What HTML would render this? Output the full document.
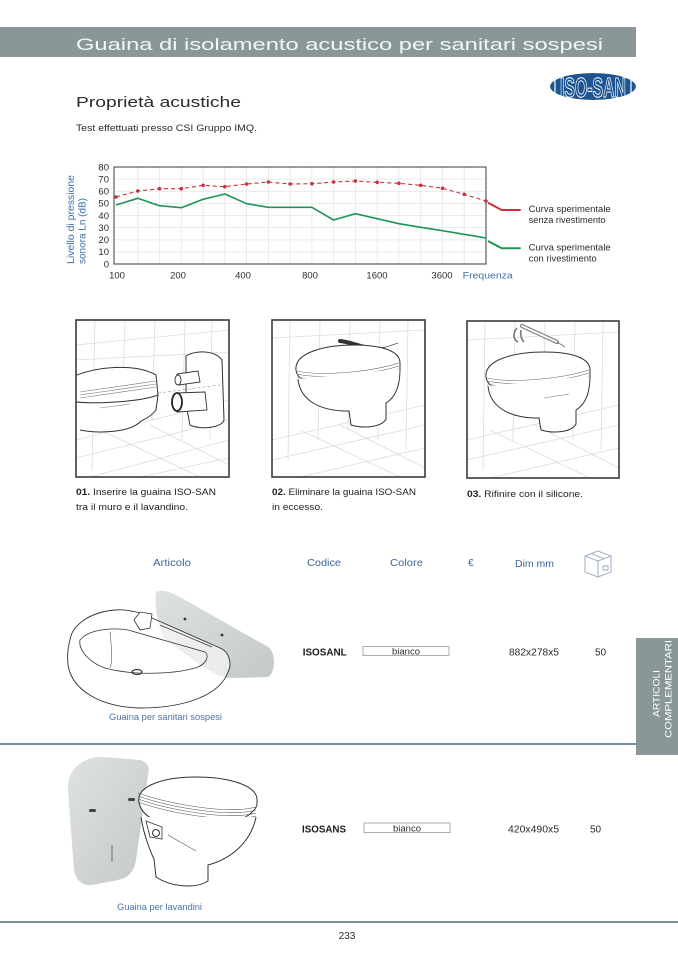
<!DOCTYPE html>
<html>
<head>
<meta charset="utf-8">
<style>
html,body{margin:0;padding:0;background:#fff;}
svg{display:block;}
text{font-family:"Liberation Sans",sans-serif;}
</style>
</head>
<body>
<svg width="678" height="959" viewBox="0 0 678 959" xmlns="http://www.w3.org/2000/svg">
<defs>
  <clipPath id="logoclip"><ellipse cx="593" cy="86.5" rx="43" ry="13.5"/></clipPath>
  <clipPath id="b1"><rect x="76" y="320" width="153" height="157"/></clipPath>
  <clipPath id="b2"><rect x="272" y="320" width="153" height="157"/></clipPath>
  <clipPath id="b3"><rect x="467" y="321" width="152" height="157"/></clipPath>
  <linearGradient id="panelg" x1="0" y1="0" x2="1" y2="1">
    <stop offset="0" stop-color="#dfe2e2"/>
    <stop offset="1" stop-color="#c3c8c8"/>
  </linearGradient>
</defs>

<!-- Header bar -->
<rect x="0" y="27" width="636" height="30" fill="#8a9799"/>
<text x="76" y="50" font-size="17" fill="#f4f6f6" textLength="527" lengthAdjust="spacingAndGlyphs">Guaina di isolamento acustico per sanitari sospesi</text>

<text x="76" y="107" font-size="15" fill="#2b2b2b" textLength="165" lengthAdjust="spacingAndGlyphs">Proprietà acustiche</text>
<text x="76" y="131" font-size="9.5" fill="#2b2b2b" textLength="181" lengthAdjust="spacingAndGlyphs">Test effettuati presso CSI Gruppo IMQ.</text>

<!-- Logo -->
<g clip-path="url(#logoclip)">
  <ellipse cx="593" cy="86.5" rx="43" ry="13.5" fill="#1d5592"/>
  <text x="593" y="97" font-size="28" font-weight="bold" fill="#1d5592" stroke="#ffffff" stroke-width="1" text-anchor="middle" textLength="66" lengthAdjust="spacingAndGlyphs">ISO-SAN</text>
  <line x1="555" y1="73" x2="555" y2="100" stroke="#fff" stroke-width="1.2"/>
  <line x1="631" y1="73" x2="631" y2="100" stroke="#fff" stroke-width="1.2"/>
</g>

<!-- Chart -->
<g stroke="#e6e6e6" stroke-width="0.8">
  <line x1="114" y1="179.1" x2="486" y2="179.1"/>
  <line x1="114" y1="191.3" x2="486" y2="191.3"/>
  <line x1="114" y1="203.4" x2="486" y2="203.4"/>
  <line x1="114" y1="215.5" x2="486" y2="215.5"/>
  <line x1="114" y1="227.6" x2="486" y2="227.6"/>
  <line x1="114" y1="239.8" x2="486" y2="239.8"/>
  <line x1="114" y1="251.9" x2="486" y2="251.9"/>
  <line x1="137.8" y1="167" x2="137.8" y2="264"/>
  <line x1="159.5" y1="167" x2="159.5" y2="264"/>
  <line x1="181.3" y1="167" x2="181.3" y2="264"/>
  <line x1="203.1" y1="167" x2="203.1" y2="264"/>
  <line x1="224.8" y1="167" x2="224.8" y2="264"/>
  <line x1="246.6" y1="167" x2="246.6" y2="264"/>
  <line x1="268.4" y1="167" x2="268.4" y2="264"/>
  <line x1="290.1" y1="167" x2="290.1" y2="264"/>
  <line x1="311.9" y1="167" x2="311.9" y2="264"/>
  <line x1="333.6" y1="167" x2="333.6" y2="264"/>
  <line x1="355.4" y1="167" x2="355.4" y2="264"/>
  <line x1="377.2" y1="167" x2="377.2" y2="264"/>
  <line x1="398.9" y1="167" x2="398.9" y2="264"/>
  <line x1="420.7" y1="167" x2="420.7" y2="264"/>
  <line x1="442.5" y1="167" x2="442.5" y2="264"/>
  <line x1="464.2" y1="167" x2="464.2" y2="264"/>
</g>
<rect x="114" y="167" width="372" height="97" fill="none" stroke="#3a3a3a" stroke-width="1"/>

<!-- green series -->
<polyline fill="none" stroke="#1e9556" stroke-width="1.6" stroke-linejoin="round"
  points="116,205 137.8,198.3 159.5,205.7 181.3,207.7 203.1,199.3 224.8,194 246.6,203.7 268.4,207.3 290.1,207.3 311.9,207.3 333.6,220 355.4,213.7 377.2,218.7 398.9,223.7 420.7,227.3 442.5,230.7 464.2,234.3 486,238"/>
<!-- red series -->
<polyline fill="none" stroke="#c8323a" stroke-width="1.1" stroke-dasharray="4,3"
  points="116,197 137.8,191 159.5,188.7 181.3,188.7 203.1,185.3 224.8,186.7 246.6,184 268.4,182 290.1,184 311.9,183.7 333.6,182 355.4,181 377.2,182.3 398.9,183.3 420.7,185.3 442.5,188.3 464.2,194.3 486,201"/>
<g fill="#c8323a">
  <circle cx="116" cy="197" r="1.8"/><circle cx="137.8" cy="191" r="1.8"/><circle cx="159.5" cy="188.7" r="1.8"/>
  <circle cx="181.3" cy="188.7" r="1.8"/><circle cx="203.1" cy="185.3" r="1.8"/><circle cx="224.8" cy="186.7" r="1.8"/>
  <circle cx="246.6" cy="184" r="1.8"/><circle cx="268.4" cy="182" r="1.8"/><circle cx="290.1" cy="184" r="1.8"/>
  <circle cx="311.9" cy="183.7" r="1.8"/><circle cx="333.6" cy="182" r="1.8"/><circle cx="355.4" cy="181" r="1.8"/>
  <circle cx="377.2" cy="182.3" r="1.8"/><circle cx="398.9" cy="183.3" r="1.8"/><circle cx="420.7" cy="185.3" r="1.8"/>
  <circle cx="442.5" cy="188.3" r="1.8"/><circle cx="464.2" cy="194.3" r="1.8"/><circle cx="486" cy="201" r="1.8"/>
</g>

<!-- legend -->
<polyline fill="none" stroke="#c8323a" stroke-width="2" points="488,202.7 501.7,210 520.7,210"/>
<polyline fill="none" stroke="#1e9556" stroke-width="2" points="488,241 501.7,248.3 520.7,248.3"/>
<g font-size="9" fill="#2b2b2b">
  <text x="528.7" y="212" textLength="82" lengthAdjust="spacingAndGlyphs">Curva sperimentale</text>
  <text x="528.7" y="223" textLength="77" lengthAdjust="spacingAndGlyphs">senza rivestimento</text>
  <text x="528.7" y="250.5" textLength="82" lengthAdjust="spacingAndGlyphs">Curva sperimentale</text>
  <text x="528.7" y="261.5" textLength="68" lengthAdjust="spacingAndGlyphs">con rivestimento</text>
</g>

<!-- y tick labels -->
<g font-size="9.5" fill="#2b2b2b" text-anchor="end">
  <text x="109" y="170.3">80</text>
  <text x="109" y="182.4">70</text>
  <text x="109" y="194.6">60</text>
  <text x="109" y="206.7">50</text>
  <text x="109" y="218.8">40</text>
  <text x="109" y="230.9">30</text>
  <text x="109" y="243.1">20</text>
  <text x="109" y="255.2">10</text>
  <text x="109" y="267.3">0</text>
</g>
<!-- x tick labels -->
<g font-size="9.5" fill="#2b2b2b" text-anchor="middle">
  <text x="117" y="278.5">100</text>
  <text x="178" y="278.5">200</text>
  <text x="243" y="278.5">400</text>
  <text x="310" y="278.5">800</text>
  <text x="377" y="278.5">1600</text>
  <text x="442" y="278.5">3600</text>
</g>
<text x="462.7" y="278.5" font-size="9.5" fill="#3a6fa8" textLength="50" lengthAdjust="spacingAndGlyphs">Frequenza</text>
<!-- y axis title -->
<text transform="translate(74,264) rotate(-90)" font-size="10.5" fill="#3a6fa8" textLength="89" lengthAdjust="spacingAndGlyphs">Livello di pressione</text>
<text transform="translate(85.5,264) rotate(-90)" font-size="10.5" fill="#3a6fa8" textLength="66" lengthAdjust="spacingAndGlyphs">sonora Ln (dB)</text>

<!-- ===== Illustration box 1 ===== -->
<g clip-path="url(#b1)">
  <g stroke="#dcdcdc" stroke-width="0.8" fill="none">
    <line x1="95" y1="320" x2="92" y2="470"/><line x1="125" y1="320" x2="122" y2="420"/>
    <line x1="155" y1="320" x2="152" y2="420"/><line x1="185" y1="320" x2="182" y2="440"/>
    <line x1="212" y1="320" x2="210" y2="440"/>
    <line x1="76" y1="345" x2="229" y2="330"/><line x1="76" y1="360" x2="229" y2="352"/>
    <line x1="76" y1="440" x2="229" y2="400"/><line x1="76" y1="458" x2="229" y2="420"/>
    <line x1="90" y1="477" x2="229" y2="440"/><line x1="140" y1="477" x2="229" y2="458"/>
    <line x1="100" y1="430" x2="200" y2="477"/><line x1="150" y1="425" x2="229" y2="465"/>
  </g>
  <!-- sink side -->
  <path d="M70,378 C95,366 135,363 156,375 L158,395 C145,402 110,405 76,402 Z" fill="#fff" stroke="#333" stroke-width="1"/>
  <path d="M80,392 L156,381 M80,395 L156,384 M80,398 L156,387" stroke="#777" stroke-width="0.6"/>
  <path d="M76,402 C95,404 140,402 158,395 L156,410 C150,418 142,420 140,422 C130,432 100,434 80,430" fill="#fff" stroke="#333" stroke-width="1"/>
  <path d="M100,408 L130,404" stroke="#888" stroke-width="0.6"/>
  <!-- panel -->
  <path d="M186,356 C195,350 215,350 222,360 L224,420 C222,428 200,430 190,425 L186,405 Z" fill="#fff" stroke="#333" stroke-width="1"/>
  <!-- nut -->
  <path d="M177,374 L198,371 L200,382 L179,385 Z" fill="#fff" stroke="#333" stroke-width="0.9"/>
  <ellipse cx="178" cy="380" rx="3" ry="5" fill="#fff" stroke="#333" stroke-width="0.9"/>
  <!-- cylinder -->
  <path d="M176,393 L205,392 L207,410 L177,412 Z" fill="#fff" stroke="#333" stroke-width="0.9"/>
  <ellipse cx="177" cy="402" rx="5" ry="9" fill="#fff" stroke="#222" stroke-width="1.8"/>
  <line x1="158" y1="393" x2="220" y2="385" stroke="#999" stroke-width="0.6" stroke-dasharray="3,2"/>
</g>
<rect x="76" y="320" width="153" height="157" fill="none" stroke="#3a3a3a" stroke-width="1.6"/>

<!-- ===== Illustration box 2 ===== -->
<g clip-path="url(#b2)">
  <g stroke="#dcdcdc" stroke-width="0.8" fill="none">
    <line x1="290" y1="320" x2="288" y2="460"/><line x1="320" y1="320" x2="318" y2="440"/>
    <line x1="350" y1="320" x2="348" y2="430"/><line x1="380" y1="320" x2="378" y2="440"/>
    <line x1="408" y1="320" x2="406" y2="450"/>
    <line x1="272" y1="338" x2="425" y2="330"/>
    <line x1="272" y1="440" x2="425" y2="405"/><line x1="272" y1="460" x2="425" y2="425"/>
    <line x1="300" y1="477" x2="425" y2="448"/><line x1="300" y1="430" x2="400" y2="477"/>
    <line x1="340" y1="425" x2="425" y2="468"/>
  </g>
  <path d="M340,341 C350,342 358,346 370,348" stroke="#333" stroke-width="4" fill="none" stroke-linecap="round"/>
  <path d="M370,348 C380,350 392,345 398,343" stroke="#555" stroke-width="0.8" fill="none"/>
  <g transform="translate(294,345)">
    <path d="M2,25 C0,8 30,0 60,0 C88,0 106,6 106,18 L106,24 C104,32 80,42 50,42 C20,42 3,36 2,25 Z" fill="#fff" stroke="#333" stroke-width="1"/>
    <path d="M3,26 C30,32 80,26 105,18 M3,29 C30,35 80,29 105,21 M3,32 C30,38 80,32 105,24" stroke="#666" stroke-width="0.6" fill="none"/>
    <path d="M4,34 C6,55 25,65 50,66 L55,66 L57,80 C70,84 88,82 92,74 L92,58 C102,52 106,40 106,24" fill="#fff" stroke="#333" stroke-width="1"/>
  </g>
</g>
<rect x="272" y="320" width="153" height="157" fill="none" stroke="#3a3a3a" stroke-width="1.6"/>

<!-- ===== Illustration box 3 ===== -->
<g clip-path="url(#b3)">
  <g stroke="#dcdcdc" stroke-width="0.8" fill="none">
    <line x1="485" y1="321" x2="483" y2="470"/><line x1="515" y1="321" x2="513" y2="440"/>
    <line x1="545" y1="321" x2="543" y2="430"/><line x1="575" y1="321" x2="573" y2="440"/>
    <line x1="603" y1="321" x2="601" y2="450"/>
    <line x1="467" y1="340" x2="619" y2="332"/>
    <line x1="467" y1="440" x2="619" y2="405"/><line x1="467" y1="460" x2="619" y2="425"/>
    <line x1="490" y1="478" x2="619" y2="448"/><line x1="490" y1="430" x2="590" y2="478"/>
    <line x1="535" y1="425" x2="619" y2="468"/>
  </g>
  <!-- silicone gun -->
  <path d="M522,326 L557,342" stroke="#777" stroke-width="4" stroke-linecap="round"/>
  <path d="M522,326 L557,342" stroke="#fff" stroke-width="2" stroke-linecap="round"/>
  <path d="M517,328 C512,334 514,340 518,342 M521,330 C520,336 522,340 524,342" stroke="#777" stroke-width="1.6" fill="none"/>
  <path d="M557,342 L565,347" stroke="#777" stroke-width="1"/>
  <g transform="translate(484,352)">
    <path d="M2,25 C0,8 30,0 60,0 C88,0 106,6 106,18 L106,24 C104,32 80,42 50,42 C20,42 3,36 2,25 Z" fill="#fff" stroke="#333" stroke-width="1"/>
    <path d="M3,26 C30,32 80,26 105,18 M3,29 C30,35 80,29 105,21 M3,32 C30,38 80,32 105,24" stroke="#666" stroke-width="0.6" fill="none"/>
    <path d="M4,34 C6,55 25,65 50,66 L55,66 L57,78 C70,82 88,80 92,72 L92,58 C102,52 106,40 106,24" fill="#fff" stroke="#333" stroke-width="1"/>
    <path d="M60,46 L85,42" stroke="#777" stroke-width="0.6"/>
  </g>
</g>
<rect x="467" y="321" width="152" height="157" fill="none" stroke="#3a3a3a" stroke-width="1.6"/>

<!-- captions -->
<g font-size="9.5" fill="#222">
  <text x="76" y="495" textLength="140" lengthAdjust="spacingAndGlyphs"><tspan font-weight="bold">01.</tspan> Inserire la guaina ISO-SAN</text>
  <text x="76" y="510" textLength="112" lengthAdjust="spacingAndGlyphs">tra il muro e il lavandino.</text>
  <text x="272" y="495" textLength="144" lengthAdjust="spacingAndGlyphs"><tspan font-weight="bold">02.</tspan> Eliminare la guaina ISO-SAN</text>
  <text x="272" y="510" textLength="51" lengthAdjust="spacingAndGlyphs">in eccesso.</text>
  <text x="467" y="497" textLength="116" lengthAdjust="spacingAndGlyphs"><tspan font-weight="bold">03.</tspan> Rifinire con il silicone.</text>
</g>

<!-- table header -->
<g font-size="10" fill="#3d6699">
  <text x="153" y="566" textLength="38" lengthAdjust="spacingAndGlyphs">Articolo</text>
  <text x="307" y="566" textLength="34" lengthAdjust="spacingAndGlyphs">Codice</text>
  <text x="390" y="566" textLength="33" lengthAdjust="spacingAndGlyphs">Colore</text>
  <text x="468" y="566">€</text>
  <text x="515" y="567" textLength="39" lengthAdjust="spacingAndGlyphs">Dim mm</text>
</g>
<!-- box icon -->
<g fill="none" stroke="#8ea3ba" stroke-width="0.9">
  <path d="M585,556 L598,551 L611,556 L611,572 L598,577 L585,572 Z"/>
  <path d="M585,556 L598,561 L611,556 M598,561 L598,577"/>
  <path d="M591,553.5 L604,558.5"/>
  <rect x="603" y="566" width="5" height="4"/>
</g>

<!-- product 1 -->
<path d="M156,592 C162,589 170,592 180,597 L268,647 C276,652 276,672 268,677 L232,678 C222,678 212,672 200,665 L166,640 C158,630 154,605 156,592 Z" fill="url(#panelg)"/>
<circle cx="185" cy="619" r="1.4" fill="#333"/><circle cx="222" cy="635" r="1.4" fill="#333"/>
<path d="M70,640 C72,625 90,612 115,610 C130,609 142,613 152,618 L220,648 C230,652 232,665 228,672 C220,695 185,708 140,708 C100,707 72,690 68,665 C67,655 68,647 70,640 Z" fill="#fff" fill-opacity="0.6" stroke="#333" stroke-width="0.9"/>
<path d="M80,640 C88,630 110,627 128,630 L205,652 C210,656 206,665 195,668 C170,675 130,675 105,668 C90,663 78,650 80,640 Z" fill="none" stroke="#333" stroke-width="0.8"/>
<path d="M110,632 C112,650 112,665 110,668" fill="none" stroke="#555" stroke-width="0.6"/>
<ellipse cx="137" cy="672" rx="5" ry="2.5" fill="none" stroke="#333" stroke-width="1.2"/>
<path d="M134,620 L140,612 L152,614 L150,628 L140,630 Z" fill="#fff" stroke="#333" stroke-width="0.8"/>
<path d="M160,625 L212,647" stroke="#333" stroke-width="0.7"/>
<text x="109" y="720" font-size="9" fill="#4a73a8" textLength="113" lengthAdjust="spacingAndGlyphs">Guaina per sanitari sospesi</text>

<!-- row 1 -->
<text x="302.7" y="655.5" font-size="10" font-weight="bold" fill="#1a1a1a" textLength="44" lengthAdjust="spacingAndGlyphs">ISOSANL</text>
<rect x="363" y="646.5" width="86" height="9" fill="#fff" stroke="#9a9a9a" stroke-width="0.8"/>
<text x="406" y="654.5" font-size="9.5" fill="#2b2b2b" text-anchor="middle">bianco</text>
<text x="509" y="655.5" font-size="10" fill="#2b2b2b" textLength="50" lengthAdjust="spacingAndGlyphs">882x278x5</text>
<text x="595" y="655.5" font-size="10" fill="#2b2b2b">50</text>

<!-- side tab -->
<rect x="636" y="638" width="42" height="117" fill="#8a9799"/>
<text transform="translate(659.5,693.5) rotate(-90)" font-size="9.5" fill="#ffffff" text-anchor="middle" textLength="47" lengthAdjust="spacingAndGlyphs">ARTICOLI</text>
<text transform="translate(671.5,689) rotate(-90)" font-size="9.5" fill="#ffffff" text-anchor="middle" textLength="98" lengthAdjust="spacingAndGlyphs">COMPLEMENTARI</text>

<line x1="0" y1="744" x2="636" y2="744" stroke="#4d6b7b" stroke-width="1.5"/>

<!-- product 2 -->
<path d="M72,772 C80,760 92,757 102,757 L140,760 C148,762 150,768 148,775 L136,860 C134,872 128,878 118,880 L92,885 C82,886 76,880 74,870 L68,790 C68,782 69,777 72,772 Z" fill="url(#panelg)"/>
<rect x="89" y="809" width="7" height="3" rx="1.5" fill="#444"/>
<rect x="128" y="798" width="7" height="3" rx="1.5" fill="#444"/>
<line x1="112" y1="845" x2="112" y2="862" stroke="#555" stroke-width="0.8"/>
<g transform="translate(136,777)">
  <path d="M3,25 C0,8 30,0 60,0 C92,0 120,8 121,22 L121,28 C118,38 95,52 60,52 C25,50 5,40 3,25 Z" fill="#fff" stroke="#333" stroke-width="1"/>
  <path d="M2,16 C30,26 90,38 120,30 M2,19 C30,29 90,41 120,33 M2,22 C30,32 90,44 120,36 M2,25 C30,35 90,47 120,39" stroke="#555" stroke-width="0.6" fill="none"/>
  <path d="M5,40 C8,60 16,78 18,82 L20,100 C35,110 60,112 72,104 L72,88 C95,82 115,65 120,40" fill="#fff" stroke="#333" stroke-width="1"/>
  <path d="M10,44 L14,60 L26,62 L26,50 Z" fill="none" stroke="#333" stroke-width="0.8"/>
  <circle cx="20" cy="56" r="3.5" fill="#fff" stroke="#333" stroke-width="1"/>
  <path d="M32,58 L60,74" stroke="#555" stroke-width="0.6"/>
</g>
<text x="117" y="910" font-size="9" fill="#4a73a8" textLength="85" lengthAdjust="spacingAndGlyphs">Guaina per lavandini</text>

<!-- row 2 -->
<text x="302" y="832.5" font-size="10" font-weight="bold" fill="#1a1a1a" textLength="44" lengthAdjust="spacingAndGlyphs">ISOSANS</text>
<rect x="364" y="823" width="86" height="9.5" fill="#fff" stroke="#9a9a9a" stroke-width="0.8"/>
<text x="407" y="831.5" font-size="9.5" fill="#2b2b2b" text-anchor="middle">bianco</text>
<text x="508" y="832.5" font-size="10" fill="#2b2b2b" textLength="51" lengthAdjust="spacingAndGlyphs">420x490x5</text>
<text x="590" y="832.5" font-size="10" fill="#2b2b2b">50</text>

<!-- footer -->
<line x1="0" y1="922" x2="678" y2="922" stroke="#4d6b7b" stroke-width="1.5"/>
<text x="347" y="939" font-size="10" fill="#2b2b2b" text-anchor="middle">233</text>
</svg>
</body>
</html>
